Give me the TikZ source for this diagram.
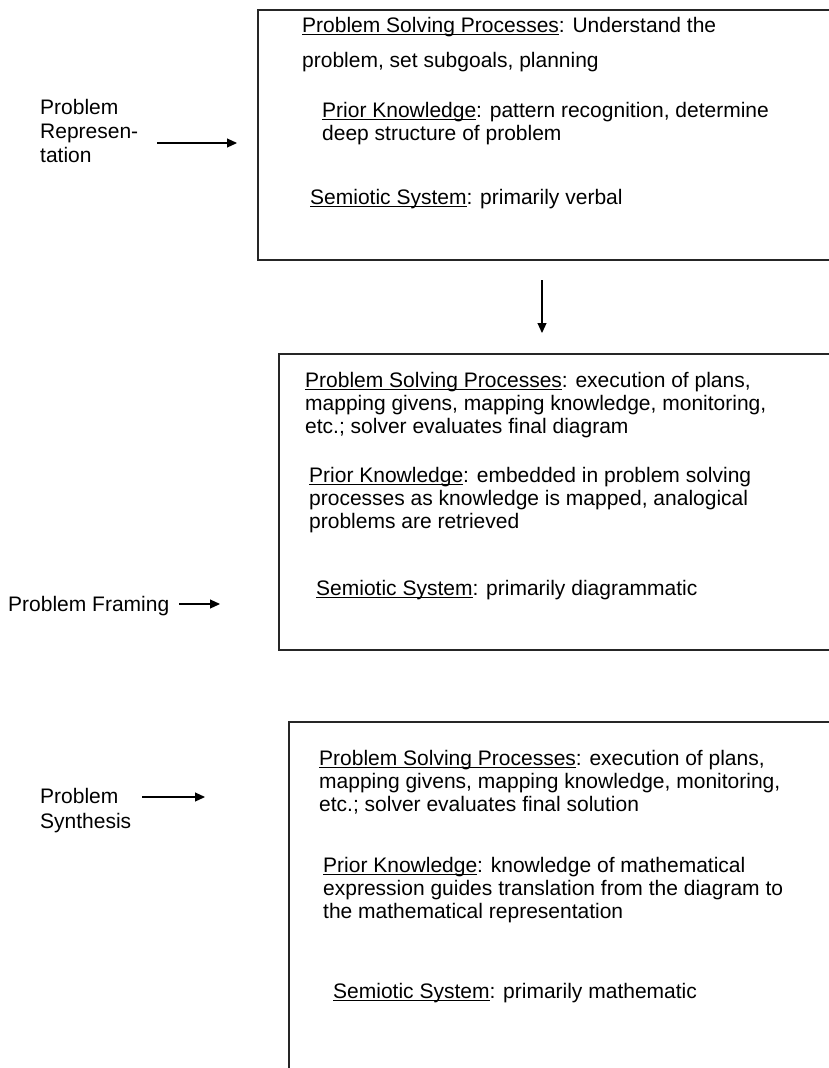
\documentclass[tikz,border=0pt]{standalone}
\usepackage{fontspec}
\setmainfont{Liberation Sans}
\usetikzlibrary{arrows.meta}
\newcommand{\myul}[1]{\setbox0\hbox{#1}\rlap{\rule[-3.2pt]{\wd0}{1.3pt}}\box0}
\tikzset{
  boxline/.style={line width=1.3pt, draw=black!85},
  arr/.style={line width=1.1pt, -{Triangle[length=10pt,width=9pt]}},
  txt/.style={anchor=base west, inner sep=0pt, align=left, font=\fontsize{21}{23}\selectfont},
}
\begin{document}
\begin{tikzpicture}[x=1pt,y=-1pt]
\useasboundingbox (0,0) rectangle (829,1068);
% boxes
\draw[boxline] (829,10) -- (258,10) -- (258,260) -- (829,260);
\draw[boxline] (829,354) -- (279,354) -- (279,650) -- (829,650);
\draw[boxline] (829,722) -- (289,722) -- (289,1068);
% box 1 text (anchor = baseline of last line)
\node[txt] (b1a) at (302,32) {\myul{Problem Solving Processes}: Understand the};
\node[txt] (b1b) at (302,67) {problem, set subgoals, planning};
\node[txt] (b1c) at (322,140) {\myul{Prior Knowledge}: pattern recognition, determine\\deep structure of problem};
\node[txt] (b1d) at (310,204) {\myul{Semiotic System}: primarily verbal};
% box 2 text
\node[txt] (b2a) at (305,433) {\myul{Problem Solving Processes}: execution of plans,\\mapping givens, mapping knowledge, monitoring,\\etc.; solver evaluates final diagram};
\node[txt] (b2b) at (309,528) {\myul{Prior Knowledge}: embedded in problem solving\\processes as knowledge is mapped, analogical\\problems are retrieved};
\node[txt] (b2c) at (316,595) {\myul{Semiotic System}: primarily diagrammatic};
% box 3 text
\node[txt] (b3a) at (319,811) {\myul{Problem Solving Processes}: execution of plans,\\mapping givens, mapping knowledge, monitoring,\\etc.; solver evaluates final solution};
\node[txt] (b3b) at (323,918) {\myul{Prior Knowledge}: knowledge of mathematical\\expression guides translation from the diagram to\\the mathematical representation};
\node[txt] (b3c) at (333,998) {\myul{Semiotic System}: primarily mathematic};
% left labels
\node[txt, font=\fontsize{21}{24}\selectfont] (l1) at (40,162) {Problem\\Represen-\\tation};
\node[txt] (l2) at (8,611) {Problem Framing};
\node[txt, font=\fontsize{21}{25}\selectfont] (l3) at (40,828) {Problem\\Synthesis};
% arrows
\coordinate (a1s) at (157,143); \coordinate (a1e) at (237,143);
\coordinate (a2s) at (179,604); \coordinate (a2e) at (220,604);
\coordinate (a3s) at (142,797); \coordinate (a3e) at (205,797);
\coordinate (dS) at (542,280); \coordinate (dE) at (542,333);
\draw[arr] (a1s) -- (a1e);
\draw[arr] (a2s) -- (a2e);
\draw[arr] (a3s) -- (a3e);
\draw[arr] (dS) -- (dE);
\end{tikzpicture}
\end{document}
